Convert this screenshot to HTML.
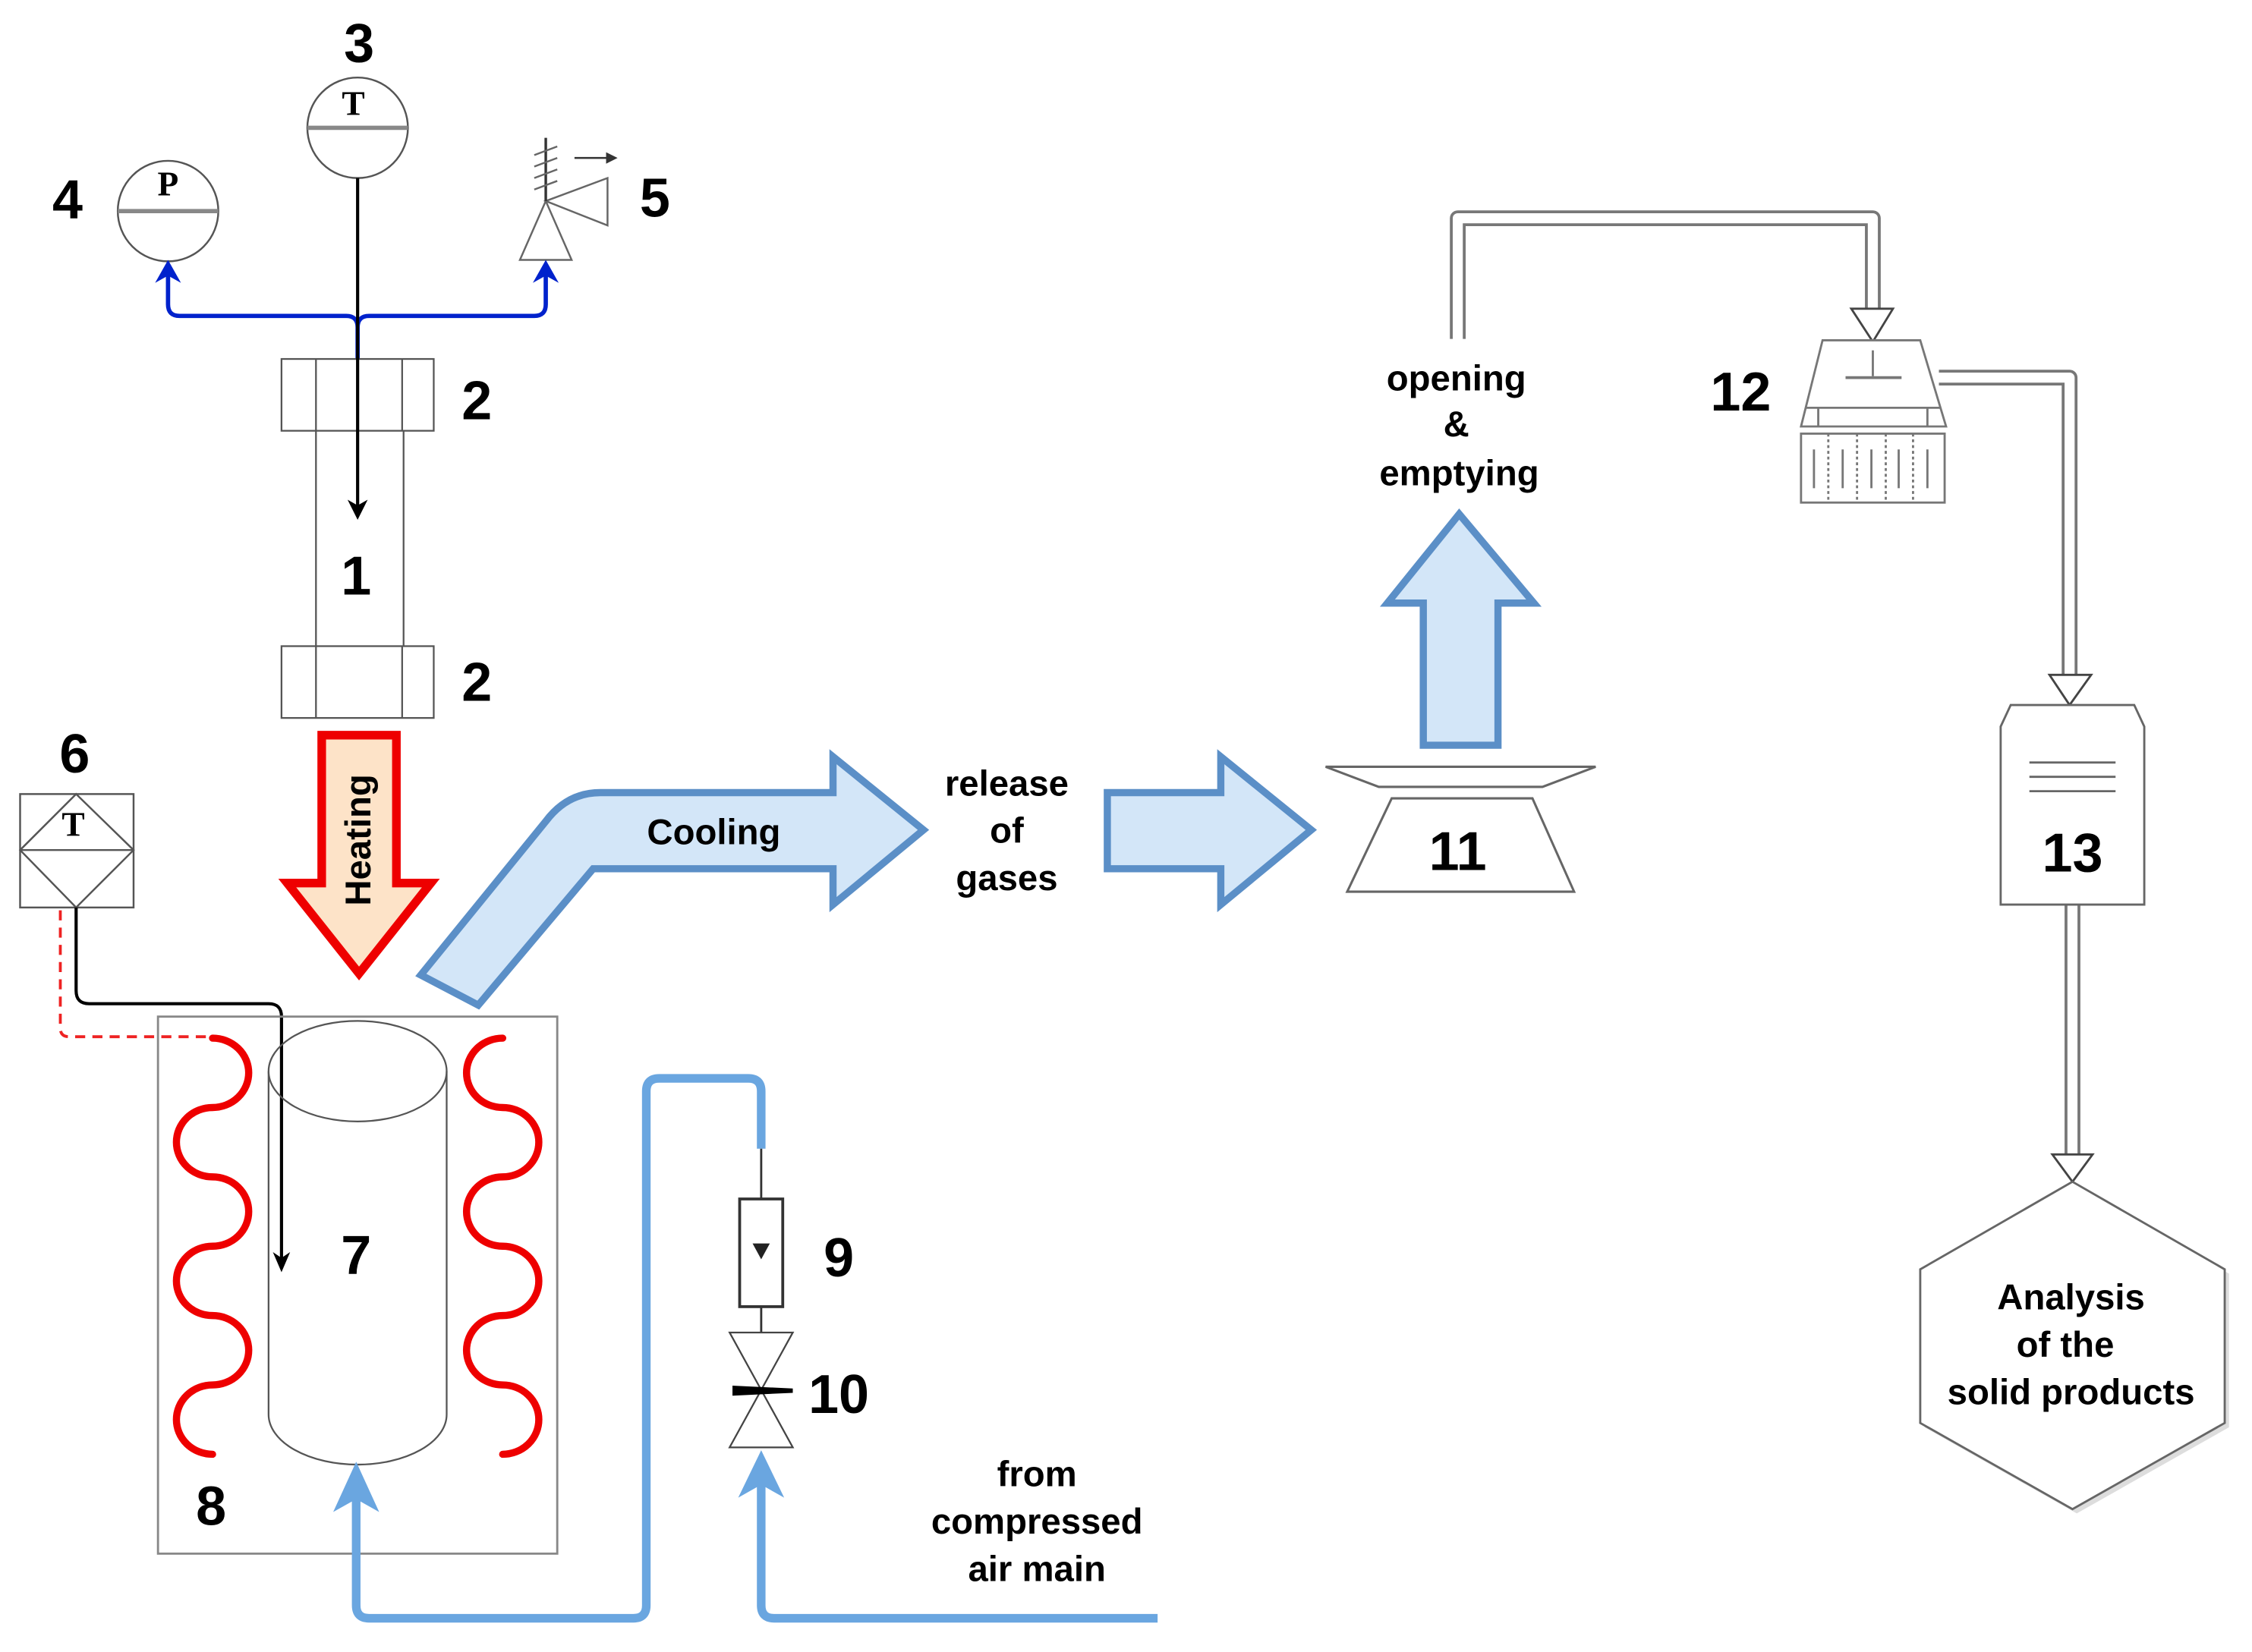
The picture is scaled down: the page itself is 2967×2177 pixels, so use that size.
<!DOCTYPE html>
<html><head><meta charset="utf-8"><style>
html,body{margin:0;padding:0;background:#fff;}
svg{display:block;}
text{font-family:"Liberation Sans",sans-serif;font-weight:bold;fill:#000;}
.num{font-size:38px;}
.lab{font-size:25px;}
.ser{font-family:"Liberation Serif",serif;font-weight:bold;font-size:24px;}
</style></head><body>
<svg width="2967" height="2177" viewBox="0 0 1568 1150.5" xmlns="http://www.w3.org/2000/svg">
<rect width="1568" height="1151" fill="#fff"/>

<!-- gauges -->
<g stroke="#555" stroke-width="1.3" fill="#fff">
<circle cx="249" cy="89" r="35"/>
<circle cx="117" cy="147" r="35"/>
</g>
<line x1="214" y1="89" x2="284" y2="89" stroke="#888" stroke-width="3"/>
<line x1="82" y1="147" x2="152" y2="147" stroke="#888" stroke-width="3"/>
<text class="ser" x="246" y="80" text-anchor="middle">T</text>
<text class="ser" x="117" y="136" text-anchor="middle">P</text>

<!-- valve 5 -->
<g stroke="#666" stroke-width="1.3" fill="#fff">
<polygon points="380,140 362,181 398,181"/>
<polygon points="380,140 423,124 423,157"/>
<line x1="380" y1="96" x2="380" y2="140" stroke="#333" stroke-width="1.8"/>
<line x1="372" y1="108" x2="388" y2="102"/>
<line x1="372" y1="116" x2="388" y2="110"/>
<line x1="372" y1="124" x2="388" y2="118"/>
<line x1="372" y1="132" x2="388" y2="126"/>
<line x1="400" y1="110" x2="424" y2="110" stroke="#333"/>
</g>
<polygon points="430,110 422,106 422,114" fill="#333"/>

<!-- blue line -->
<path d="M117,190 V212 Q117,220 125,220 H241 Q249,220 249,228 V250 M249,228 Q249,220 257,220 H372 Q380,220 380,212 V190" fill="none" stroke="#0022cc" stroke-width="3"/>
<polygon points="117,181 108,197 117,192 126,197" fill="#0022cc"/>
<polygon points="380,181 371,197 380,192 389,197" fill="#0022cc"/>

<!-- reactor tube -->
<g stroke="#555" stroke-width="1.2" fill="none">
<rect x="196" y="250" width="106" height="50"/>
<line x1="220" y1="250" x2="220" y2="300"/><line x1="280" y1="250" x2="280" y2="300"/>
<line x1="220" y1="300" x2="220" y2="450"/><line x1="281" y1="300" x2="281" y2="450"/>
<rect x="196" y="450" width="106" height="50"/>
<line x1="220" y1="450" x2="220" y2="500"/><line x1="280" y1="450" x2="280" y2="500"/>
</g>
<line x1="249" y1="124" x2="249" y2="355" stroke="#000" stroke-width="2.2"/>
<polygon points="249,362 242,348 249,352 256,348" fill="#000"/>

<!-- heating arrow -->
<polygon points="224,512 276,512 276,615 300,615 250,678 200,615 224,615" fill="#fde3c8" stroke="#ee0000" stroke-width="6" stroke-linejoin="miter"/>
<text class="lab" x="0" y="0" transform="translate(258,585) rotate(-90)" text-anchor="middle">Heating</text>

<!-- cooling arrow -->
<path d="M293,679 L380,572 Q395,552 418,552 L580,552 L580,527 L643,578 L580,630 L580,605 L413,605 L333,700 Z" fill="#d3e6f8" stroke="#5b8fc7" stroke-width="5" stroke-linejoin="miter"/>
<text class="lab" x="497" y="588" text-anchor="middle">Cooling</text>
<text class="lab" text-anchor="middle"><tspan x="701" y="554">release</tspan><tspan x="701" y="587">of</tspan><tspan x="701" y="620">gases</tspan></text>

<path d="M771,552 L850,552 L850,527 L913,578 L850,630 L850,605 L771,605 Z" fill="#d3e6f8" stroke="#5b8fc7" stroke-width="5"/>

<!-- device 11 -->
<g stroke="#666" stroke-width="1.6" fill="#fff">
<polygon points="923,534 1111,534 1074,548 960,548"/>
<polygon points="969,556 1067,556 1096,621 938,621"/>
</g>
<!-- up arrow -->
<path d="M991,519 L991,420 L966,420 L1016,358 L1068,420 L1043,420 L1043,519 Z" fill="#d3e6f8" stroke="#5b8fc7" stroke-width="5"/>
<text class="lab" text-anchor="middle"><tspan x="1014" y="272">opening</tspan><tspan x="1014" y="304">&amp;</tspan><tspan x="1016" y="338">emptying</tspan></text>

<!-- gray pipes -->
<g fill="none" stroke-linejoin="round">
<path d="M1015,236 V152 H1304 V216" stroke="#777" stroke-width="11"/>
<path d="M1015,238 V152 H1304 V218" stroke="#fff" stroke-width="7"/>
<path d="M1350,263 H1441 V472" stroke="#777" stroke-width="11"/>
<path d="M1348,263 H1441 V474" stroke="#fff" stroke-width="7"/>
<path d="M1443,630 V804" stroke="#777" stroke-width="11"/>
<path d="M1443,630 V806" stroke="#fff" stroke-width="7"/>
</g>
<polygon points="1289,215 1318,215 1304,238" fill="#fff" stroke="#444" stroke-width="1.5"/>
<polygon points="1427,470 1456,470 1441,491" fill="#fff" stroke="#444" stroke-width="1.5"/>
<polygon points="1429,804 1457,804 1443,823" fill="#fff" stroke="#444" stroke-width="1.5"/>

<!-- device 12 -->
<g stroke="#777" stroke-width="1.5" fill="#fff">
<polygon points="1269,237 1337,237 1355,297 1254,297"/>
<line x1="1257" y1="284" x2="1351" y2="284"/>
<line x1="1266" y1="284" x2="1266" y2="297"/><line x1="1342" y1="284" x2="1342" y2="297"/>
<line x1="1304" y1="244" x2="1304" y2="262"/>
<line x1="1285" y1="263" x2="1324" y2="263" stroke-width="2"/>
<rect x="1254" y="302" width="100" height="48"/>
<g stroke-dasharray="2,2"><line x1="1273" y1="302" x2="1273" y2="350"/><line x1="1293" y1="302" x2="1293" y2="350"/><line x1="1313" y1="302" x2="1313" y2="350"/><line x1="1332" y1="302" x2="1332" y2="350"/></g>
<line x1="1263" y1="313" x2="1263" y2="340"/><line x1="1283" y1="313" x2="1283" y2="340"/><line x1="1303" y1="313" x2="1303" y2="340"/><line x1="1322" y1="313" x2="1322" y2="340"/><line x1="1342" y1="313" x2="1342" y2="340"/>
</g>

<!-- box 13 -->
<polygon points="1400,491 1486,491 1493,506 1493,630 1393,630 1393,506" fill="#fff" stroke="#666" stroke-width="1.5"/>
<g stroke="#666" stroke-width="1.5"><line x1="1413" y1="531" x2="1473" y2="531"/><line x1="1413" y1="541" x2="1473" y2="541"/><line x1="1413" y1="551" x2="1473" y2="551"/></g>

<!-- hexagon -->
<polygon points="1446,826 1552,887 1552,994 1446,1054 1340,994 1340,887" fill="#ddd"/>
<polygon points="1443,823 1549,884 1549,991 1443,1051 1337,991 1337,884" fill="#fff" stroke="#666" stroke-width="1.5"/>
<text class="lab" text-anchor="middle"><tspan x="1442" y="912">Analysis</tspan><tspan x="1438" y="945">of the</tspan><tspan x="1442" y="978">solid products</tspan></text>

<!-- sensor 6 -->
<g stroke="#555" stroke-width="1.3" fill="none">
<rect x="14" y="553" width="79" height="79"/>
<polygon points="53,553 93,592 53,632 14,592"/>
<line x1="14" y1="592" x2="93" y2="592"/>
</g>
<text class="ser" x="51" y="582" text-anchor="middle">T</text>
<path d="M42,634 V716 Q42,722 48,722 H150" fill="none" stroke="#ee2222" stroke-width="2" stroke-dasharray="7,5"/>
<path d="M53,632 V690 Q53,699 62,699 H187 Q196,699 196,708 V878" fill="none" stroke="#000" stroke-width="2.2"/>
<polygon points="196,886 190,872 196,876 202,872" fill="#000"/>

<!-- furnace -->
<rect x="110" y="708" width="278" height="374" fill="none" stroke="#888" stroke-width="1.5"/>
<g stroke="#555" stroke-width="1.2" fill="none">
<ellipse cx="249" cy="746" rx="62" ry="35"/>
<path d="M187,746 V985 A62,35 0 0 0 311,985 V746"/>
</g>
<g fill="none" stroke="#ee0000" stroke-width="5" stroke-linecap="round">
<path d="M148,723 a25,24 0 0 1 0,48.3 a25,24 0 0 0 0,48.3 a25,24 0 0 1 0,48.3 a25,24 0 0 0 0,48.3 a25,24 0 0 1 0,48.3 a25,24 0 0 0 0,48.3"/>
<path d="M350,723 a25,24 0 0 0 0,48.3 a25,24 0 0 1 0,48.3 a25,24 0 0 0 0,48.3 a25,24 0 0 1 0,48.3 a25,24 0 0 0 0,48.3 a25,24 0 0 1 0,48.3"/>
</g>

<!-- blue air pipes -->
<g fill="none" stroke="#6aa6e0" stroke-width="6" stroke-linejoin="round">
<path d="M248,1038 V1118 Q248,1127 257,1127 H441 Q450,1127 450,1118 V760 Q450,751 459,751 H521 Q530,751 530,760 V800"/>
<path d="M530,1020 V1118 Q530,1127 539,1127 H806"/>
</g>
<polygon points="248,1018 232,1053 248,1044 264,1053" fill="#6aa6e0"/>
<polygon points="530,1010 514,1043 530,1034 546,1043" fill="#6aa6e0"/>

<!-- 9 and 10 -->
<line x1="530" y1="800" x2="530" y2="835" stroke="#333" stroke-width="1.5"/>
<rect x="515" y="835" width="30" height="75" fill="#fff" stroke="#333" stroke-width="2"/>
<polygon points="524,866 536,866 530,877" fill="#222"/>
<line x1="530" y1="910" x2="530" y2="928" stroke="#333" stroke-width="1.5"/>
<g stroke="#444" stroke-width="1.2" fill="#fff">
<polygon points="508,928 552,928 530,968"/>
<polygon points="508,1008 552,1008 530,968"/>
</g>
<polygon points="510,965 552,967 552,970 510,972" fill="#000"/>
<text class="lab" text-anchor="middle"><tspan x="722" y="1035">from</tspan><tspan x="722" y="1068">compressed</tspan><tspan x="722" y="1101">air main</tspan></text>

<!-- numbers (on top) -->
<text class="num" x="250" y="43" text-anchor="middle">3</text>
<text class="num" x="47" y="152" text-anchor="middle">4</text>
<text class="num" x="456" y="151" text-anchor="middle">5</text>
<text class="num" x="332" y="292" text-anchor="middle">2</text>
<text class="num" x="248" y="414" text-anchor="middle">1</text>
<text class="num" x="332" y="488" text-anchor="middle">2</text>
<text class="num" x="52" y="538" text-anchor="middle">6</text>
<text class="num" x="248" y="887" text-anchor="middle">7</text>
<text class="num" x="147" y="1062" text-anchor="middle">8</text>
<text class="num" x="584" y="889" text-anchor="middle">9</text>
<text class="num" x="584" y="984" text-anchor="middle">10</text>
<text class="num" x="1015" y="606" text-anchor="middle">11</text>
<text class="num" x="1212" y="286" text-anchor="middle">12</text>
<text class="num" x="1443" y="607" text-anchor="middle">13</text>
</svg>
</body></html>
